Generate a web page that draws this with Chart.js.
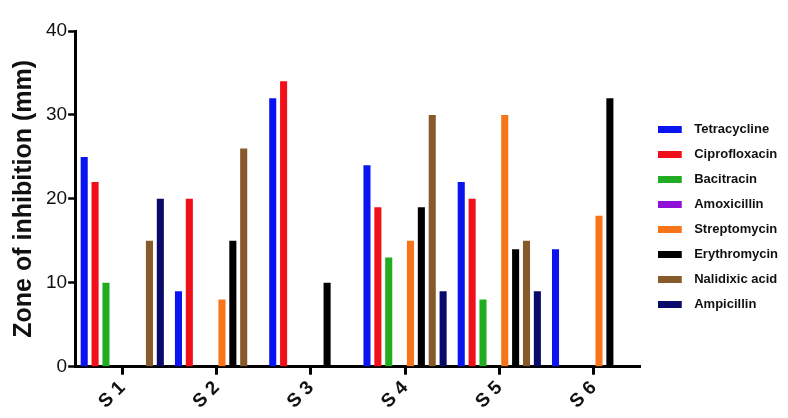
<!DOCTYPE html>
<html>
<head>
<meta charset="utf-8">
<script src="https://cdn.jsdelivr.net/npm/chart.js@4"></script>
<style>
  html, body { margin: 0; padding: 0; background: #fff; }
  #wrap { width: 788px; height: 418px; }
</style>
</head>
<body>
<div id="wrap"><canvas id="c" width="788" height="418"></canvas></div>
<script>
const categories = ["S 1", "S 2", "S 3", "S 4", "S 5", "S 6"];
const tetracycline  = [25, 9, 32, 24, 22, 14];
const ciprofloxacin = [22, 20, 34, 19, 20, 0];
const bacitracin    = [10, 0, 0, 13, 8, 0];
const amoxicillin   = [0, 0, 0, 0, 0, 0];
const streptomycin  = [0, 8, 0, 15, 30, 18];
const erythromycin  = [0, 15, 10, 19, 14, 32];
const nalidixicAcid = [15, 26, 0, 30, 15, 0];
const ampicillin    = [20, 0, 0, 9, 9, 0];
const yTicks = [0, 10, 20, 30, 40];

const series = [
  ["Tetracycline", tetracycline, "#0a14f0"],
  ["Ciprofloxacin", ciprofloxacin, "#f0101a"],
  ["Bacitracin", bacitracin, "#22ac22"],
  ["Amoxicillin", amoxicillin, "#9010d8"],
  ["Streptomycin", streptomycin, "#f87418"],
  ["Erythromycin", erythromycin, "#000000"],
  ["Nalidixic acid", nalidixicAcid, "#875a2a"],
  ["Ampicillin", ampicillin, "#0a0a6a"]
];

const FONT = "'Liberation Sans', Arial, Helvetica, sans-serif";

// legend swatch: 24x7 colour bar on a wider transparent canvas (extra gap before text)
function makeSwatch(color) {
  const cv = document.createElement('canvas');
  cv.width = 30; cv.height = 7;
  const cx = cv.getContext('2d');
  cx.fillStyle = color;
  cx.fillRect(0, 0, 24, 7);
  return cv;
}

// widen the gap between plot and legend, and nudge legend vertically
const legendNudge = {
  id: 'legendNudge',
  beforeLayout(chart) {
    const lg = chart.legend;
    if (lg && !lg._wrapped) {
      const orig = lg.fit;
      lg.fit = function () { orig.call(this); this.width += 5; };
      lg._wrapped = true;
    }
  },
  afterLayout(chart) {
    const lg = chart.legend;
    if (lg) { lg.left += 5; lg.right += 5; lg.top -= 6; lg.bottom -= 6; }
  }
};

new Chart(document.getElementById('c'), {
  type: 'bar',
  data: {
    labels: categories,
    datasets: series.map(([label, data, color]) => ({
      label, data,
      backgroundColor: color,
      borderWidth: 0,
      categoryPercentage: 0.923,
      barPercentage: 0.65
    }))
  },
  plugins: [legendNudge],
  options: {
    responsive: false,
    animation: false,
    devicePixelRatio: 1,
    layout: { padding: { top: 31, right: 0, bottom: 3, left: 9 } },
    plugins: {
      tooltip: { enabled: false },
      legend: {
        position: 'right',
        align: 'center',
        labels: {
          usePointStyle: true,
          pointStyleWidth: 30,
          boxWidth: 30,
          boxHeight: 7,
          padding: 12,
          color: '#111',
          font: { family: FONT, size: 13, weight: 'bold' },
          generateLabels(chart) {
            const items = Chart.defaults.plugins.legend.labels.generateLabels(chart);
            items.forEach((it, i) => { it.pointStyle = makeSwatch(series[i][2]); it.lineWidth = 0; });
            return items;
          }
        }
      }
    },
    scales: {
      x: {
        offset: true,
        grid: {
          offset: false,
          drawOnChartArea: false,
          drawTicks: true,
          tickLength: 8,
          tickWidth: 3,
          tickColor: '#000'
        },
        border: { display: true, color: '#000', width: 3 },
        ticks: {
          minRotation: 45,
          maxRotation: 45,
          labelOffset: 0,
          color: '#111',
          padding: 2,
          font: { family: FONT, size: 19, weight: 'bold' }
        }
      },
      y: {
        min: 0,
        max: 40,
        afterBuildTicks: (axis) => { axis.ticks = yTicks.map(v => ({ value: v })); },
        grid: {
          drawOnChartArea: false,
          drawTicks: true,
          tickLength: 7,
          tickWidth: 2.5,
          tickColor: '#000'
        },
        border: { display: true, color: '#000', width: 3 },
        ticks: {
          color: '#111',
          padding: 1,
          font: { family: FONT, size: 19 }
        },
        title: {
          display: true,
          text: 'Zone of inhibition (mm)',
          color: '#111',
          padding: { top: 0, bottom: 6 },
          font: { family: FONT, size: 25, weight: 'bold' }
        }
      }
    }
  }
});
</script>
</body>
</html>
